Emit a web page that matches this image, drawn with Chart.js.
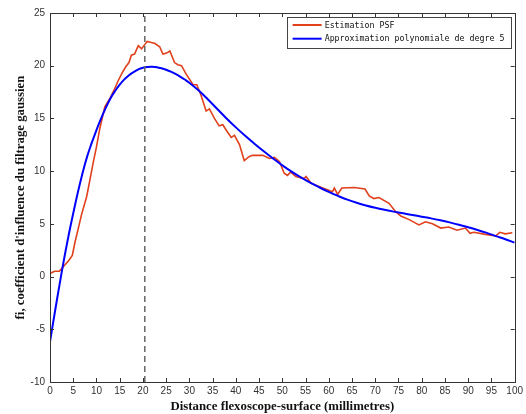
<!DOCTYPE html>
<html><head><meta charset="utf-8">
<script src="https://cdn.jsdelivr.net/npm/chart.js@4"></script>
<style>html,body{margin:0;padding:0;background:#fff}#wrap{width:526px;height:414px}</style>
</head><body><div id="wrap"><canvas id="c" width="526" height="414"></canvas></div>
<script>
// ---- data ----
const psfX = [0,1,2,2.9,4,4.8,5.4,6,6.8,7.9,8.6,9.3,10,10.7,11.8,12.9,13.8,14.7,15.5,16.3,17,17.5,18.2,19,19.7,20.4,20.9,21.8,22.6,23.6,24.3,25.1,25.8,26.8,27.5,28.3,29.3,30.8,31.6,32.5,33.6,34.3,35.4,36.4,37.2,37.9,39,39.7,40.8,41.8,42.9,43.6,45.8,47.2,48.3,49.4,50.4,51.1,51.8,52.9,54.7,55.1,56.2,58.7,60.8,61.2,61.9,62.8,65.5,67.8,68.7,69.7,70.8,72.96,74.4,75.5,77.3,79.4,80.8,82.3,84.1,85.8,87.6,89.4,90.4,91.2,93.7,95.9,96.8,98,99.5];
const psfY = [0.3,0.5,0.5,0.95,1.5,2.0,3.3,4.4,5.9,7.6,9.2,10.8,12.3,14.0,16.1,16.9,17.7,18.6,19.3,19.9,20.3,21.0,21.1,21.9,21.6,22.0,22.3,22.2,22.1,21.8,21.1,21.2,21.4,20.3,20.1,20.0,19.2,18.2,18.2,17.2,15.7,15.9,15.0,14.3,14.4,13.9,13.2,13.4,12.5,11.0,11.4,11.5,11.5,11.2,11.3,10.9,9.8,9.6,9.9,9.5,9.3,9.5,8.85,8.4,8.05,8.4,7.8,8.4,8.45,8.3,7.65,7.4,7.5,6.95,6.15,5.75,5.4,4.9,5.2,5.0,4.6,4.7,4.4,4.6,4.1,4.2,4.0,3.85,4.2,4.05,4.15];
const polyX = [0,1,2,3,4,5,6,7,8,9,10,11,12,13,14,15,16,17,18,19,20,21,22,23,24,25,26,27,28,29,30,32,34,36,38,40,42,44,46,48,50,52,54,56,58,60,62,64,66,68,70,72,74,76,78,80,82,84,86,88,90,92,94,96,98,100];
const polyY = [-6.2,-3.5,-0.9,1.6,3.9,6.0,8.0,9.8,11.4,12.7,13.9,15.0,16.0,16.9,17.6,18.2,18.7,19.1,19.4,19.65,19.8,19.88,19.9,19.86,19.76,19.62,19.44,19.22,18.97,18.69,18.38,17.65,16.8,15.9,15.0,14.15,13.35,12.6,11.88,11.2,10.55,9.95,9.4,8.9,8.45,8.03,7.65,7.3,7.0,6.74,6.52,6.33,6.16,6.0,5.84,5.68,5.52,5.34,5.14,4.92,4.68,4.42,4.14,3.84,3.54,3.22];
const markerX = 20.4;
const seriesLabels = ['Estimation PSF', 'Approximation polynomiale de degre 5'];
const xTitle = 'Distance flexoscope-surface (millimetres)';
const yTitle = "fi, coefficient d'influence du filtrage gaussien";
const xRange = [0, 100], yRange = [-10, 25], tickStep = 5;

const toPts = (xs, ys) => xs.map((x, i) => ({x, y: ys[i]}));

const framePlugin = {
  id: 'frame',
  afterDatasetsDraw(chart) {
    const {ctx, chartArea: a, scales: {x, y}} = chart;
    ctx.save();
    ctx.strokeStyle = '#333';
    ctx.lineWidth = 1;
    ctx.strokeRect(Math.round(a.left) + 0.5, Math.round(a.top) + 0.5, Math.round(a.right - a.left), Math.round(a.bottom - a.top));
    const tl = 4;
    ctx.beginPath();
    x.ticks.forEach(t => {
      const px = Math.round(x.getPixelForValue(t.value)) + 0.5;
      ctx.moveTo(px, a.bottom); ctx.lineTo(px, a.bottom - tl);
      ctx.moveTo(px, a.top); ctx.lineTo(px, a.top + tl);
    });
    y.ticks.forEach(t => {
      const py = Math.round(y.getPixelForValue(t.value)) + 0.5;
      ctx.moveTo(a.left, py); ctx.lineTo(a.left + tl, py);
      ctx.moveTo(a.right, py); ctx.lineTo(a.right - tl, py);
    });
    ctx.stroke();
    // legend
    const ds = chart.data.datasets.slice(0, 2);
    ctx.font = '8.3px "DejaVu Sans Mono"';
    const tw = Math.max(...ds.map(d => ctx.measureText(d.label).width));
    const right = a.right - 4.5, top = a.top + 4.3;
    const w = 38 + tw + 5.7, h = 31;
    const left = right - w;
    ctx.fillStyle = '#fff';
    ctx.fillRect(left, top, w, h);
    ctx.strokeStyle = '#444';
    ctx.strokeRect(Math.round(left) + 0.5, Math.round(top) + 0.5, Math.round(w), Math.round(h));
    ds.forEach((d, i) => {
      const yy = top + 7.7 + i * 13.7;
      ctx.strokeStyle = d.borderColor; ctx.lineWidth = 2;
      ctx.beginPath(); ctx.moveTo(left + 6, yy); ctx.lineTo(left + 35, yy); ctx.stroke();
      ctx.fillStyle = '#111'; ctx.textBaseline = 'middle'; ctx.textAlign = 'left';
      ctx.fillText(d.label, left + 38, yy + 0.5);
    });
    ctx.restore();
  }
};

new Chart(document.getElementById('c'), {
  type: 'line',
  data: {
    datasets: [
      {label: seriesLabels[0], data: toPts(psfX, psfY), borderColor: '#e0401c', borderWidth: 1.6, pointRadius: 0, tension: 0, order: 2},
      {label: seriesLabels[1], data: toPts(polyX, polyY), borderColor: '#0000ff', borderWidth: 2, pointRadius: 0, tension: 0.4, order: 1},
      {label: 'marker', data: [{x: markerX, y: yRange[0]}, {x: markerX, y: yRange[1]}], borderColor: '#666', borderWidth: 1.5, borderDash: [6, 4], pointRadius: 0, order: 0}
    ]
  },
  options: {
    responsive: false,
    animation: false,
    events: [],
    layout: {padding: {top: 13, right: 10, left: 0, bottom: 0}},
    plugins: {legend: {display: false}, tooltip: {enabled: false}},
    scales: {
      x: {
        type: 'linear', min: xRange[0], max: xRange[1],
        ticks: {stepSize: tickStep, color: '#333', font: {family: 'Liberation Sans', size: 10}, padding: 3, maxRotation: 0, autoSkip: false},
        grid: {display: false, drawTicks: false}, border: {display: false},
        title: {display: true, text: xTitle, color: '#111', font: {family: 'Liberation Serif', size: 12.8, weight: 'bold'}, padding: {top: 0, bottom: 0}},
        afterFit: s => { s.height = 32; }
      },
      y: {
        type: 'linear', min: yRange[0], max: yRange[1],
        ticks: {stepSize: tickStep, color: '#333', font: {family: 'Liberation Sans', size: 10}, padding: 5},
        grid: {display: false, drawTicks: false}, border: {display: false},
        title: {display: true, text: yTitle, color: '#111', font: {family: 'Liberation Serif', size: 12.8, weight: 'bold'}, padding: {top: 13, bottom: 0}},
        afterFit: s => { s.width = 50; }
      }
    }
  },
  plugins: [framePlugin]
});
</script>
</body></html>
